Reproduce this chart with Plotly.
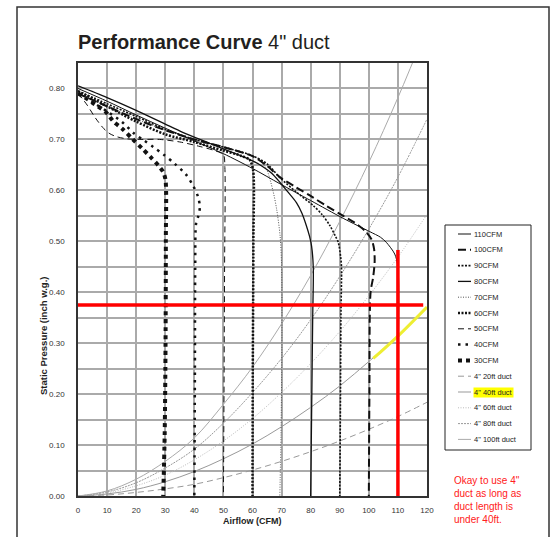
import plotly.graph_objects as go

# ---- duct system curves (static pressure vs airflow) ----
duct_cfm = [0, 10, 20, 30, 40, 50, 60, 70, 80, 90, 100, 110, 120]
duct_20ft = [0, 0.002, 0.007, 0.014, 0.023, 0.036, 0.051, 0.068, 0.087, 0.108, 0.131, 0.156, 0.184]
duct_40ft = [0, 0.004, 0.013, 0.028, 0.048, 0.073, 0.102, 0.136, 0.174, 0.216, 0.264, 0.314, 0.371]
duct_60ft = [0, 0.006, 0.020, 0.041, 0.071, 0.108, 0.152, 0.203, 0.260, 0.323, 0.393, 0.469, 0.553]
duct_80ft = [0, 0.008, 0.026, 0.055, 0.092, 0.143, 0.203, 0.270, 0.346, 0.431, 0.524, 0.626, 0.740]
duct_100ft = [0, 0.010, 0.033, 0.068, 0.114, 0.180, 0.253, 0.338, 0.433, 0.539, 0.655, 0.782, 0.920]

# ---- fan performance curves ----
cfm30_x = [0, 3, 5.5, 9.5, 12.4, 15.2, 18.7, 22.1, 25, 27.6, 29.3, 30.1, 30.2, 30.1, 29.8, 29.3]
cfm30_y = [0.79, 0.78, 0.77, 0.754, 0.734, 0.721, 0.701, 0.682, 0.665, 0.649, 0.636, 0.62, 0.5, 0.3, 0.12, 0]
cfm40_x = [0, 5, 10, 15, 19.2, 22.7, 25.9, 29.5, 33.3, 37, 39.6, 41.3, 41.9, 41.4, 40.6, 40.3, 40.2, 40]
cfm40_y = [0.79, 0.773, 0.755, 0.735, 0.712, 0.698, 0.685, 0.67, 0.652, 0.632, 0.609, 0.587, 0.567, 0.55, 0.535, 0.45, 0.25, 0]
cfm50_x = [0, 1.5, 3.2, 6, 8.9, 11, 13.5, 17, 22, 28, 35, 42, 47, 50, 50.5, 50.4, 50.2, 50]
cfm50_y = [0.79, 0.78, 0.767, 0.742, 0.721, 0.711, 0.705, 0.701, 0.70, 0.70, 0.695, 0.686, 0.678, 0.67, 0.645, 0.45, 0.2, 0]
cfm60_x = [0, 10, 20, 30, 40, 50, 56, 59, 60.2, 60.3, 60.1, 60]
cfm60_y = [0.795, 0.765, 0.735, 0.71, 0.695, 0.678, 0.668, 0.66, 0.64, 0.5, 0.25, 0]
cfm70_x = [0, 10, 20, 30, 40, 50, 58, 62, 64.8, 67, 68.3, 69.5, 70, 70.1, 69.8, 69.4]
cfm70_y = [0.79, 0.765, 0.74, 0.718, 0.70, 0.685, 0.672, 0.662, 0.642, 0.60, 0.563, 0.51, 0.452, 0.3, 0.12, 0]
cfm80_x = [0, 10, 20, 30, 36, 45, 55, 60, 63.7, 66.5, 69.4, 72, 75.1, 77, 78.5, 79.6, 80.3, 80.9, 80.7, 80.3, 80]
cfm80_y = [0.805, 0.782, 0.757, 0.73, 0.714, 0.693, 0.67, 0.658, 0.646, 0.634, 0.616, 0.598, 0.576, 0.555, 0.531, 0.51, 0.491, 0.449, 0.35, 0.15, 0]
cfm90_x = [0, 10, 20, 30, 40, 50, 60, 65, 69.4, 75, 80.9, 84, 86.6, 88.5, 89.5, 90.3, 90.6, 90.4, 90.2, 90]
cfm90_y = [0.795, 0.77, 0.745, 0.72, 0.70, 0.685, 0.668, 0.652, 0.625, 0.597, 0.570, 0.552, 0.531, 0.51, 0.498, 0.47, 0.449, 0.35, 0.15, 0]
cfm100_x = [0, 10, 20, 30, 40, 50, 60, 65, 69.4, 75, 79.7, 85, 91.2, 95, 98.6, 100.9, 101.8, 102, 101.5, 100.6, 100.2, 100]
cfm100_y = [0.79, 0.765, 0.74, 0.718, 0.70, 0.685, 0.667, 0.648, 0.626, 0.606, 0.59, 0.571, 0.55, 0.537, 0.521, 0.504, 0.485, 0.46, 0.43, 0.40, 0.2, 0]
cfm110_x = [0, 10, 20, 30, 40, 50, 60, 69.4, 80, 91.2, 100.3, 104, 106, 108.9, 110, 110.1, 110]
cfm110_y = [0.80, 0.775, 0.748, 0.722, 0.697, 0.672, 0.643, 0.613, 0.58, 0.545, 0.519, 0.508, 0.498, 0.475, 0.449, 0.25, 0]

# ---- markers on the chart ----
limit_x = [0, 118.7]
limit_y = [0.375, 0.375]
target_x = [110, 110]
target_y = [0, 0.483]
ok_x = [101.5, 110, 120]
ok_y = [0.27, 0.314, 0.371]

L, R, T, B = 78, 427, 63, 496


def px(x):
    return (x - L) / (R - L)


def py(y):
    return (B - y) / (B - T)


fig = go.Figure()

duct_styles = [
    ('4" 20ft duct', duct_20ft, dict(color='#999999', width=1, dash='6px,4px')),
    ('4" 40ft duct', duct_40ft, dict(color='#999999', width=1)),
    ('4" 60ft duct', duct_60ft, dict(color='#bbbbbb', width=1, dash='1px,1.5px')),
    ('4" 80ft duct', duct_80ft, dict(color='#999999', width=1, dash='2px,1px')),
    ('4" 100ft duct', duct_100ft, dict(color='#aaaaaa', width=1)),
]
for name, vals, ln in duct_styles:
    fig.add_trace(go.Scatter(x=duct_cfm, y=vals, mode='lines', name=name,
                             line=dict(shape='spline', **ln)))

fan_styles = [
    ('110CFM', cfm110_x, cfm110_y, dict(color='#111111', width=1)),
    ('100CFM', cfm100_x, cfm100_y, dict(color='#111111', width=2, dash='8px,4px')),
    ('90CFM', cfm90_x, cfm90_y, dict(color='#111111', width=1.6, dash='2px,1.5px')),
    ('80CFM', cfm80_x, cfm80_y, dict(color='#111111', width=1.3)),
    ('70CFM', cfm70_x, cfm70_y, dict(color='#555555', width=1, dash='1px,1.5px')),
    ('60CFM', cfm60_x, cfm60_y, dict(color='#111111', width=2.5, dash='2px,1.5px')),
    ('50CFM', cfm50_x, cfm50_y, dict(color='#111111', width=1, dash='6px,4px')),
    ('40CFM', cfm40_x, cfm40_y, dict(color='#111111', width=2.5, dash='2.5px,5px')),
    ('30CFM', cfm30_x, cfm30_y, dict(color='#111111', width=4, dash='4px,4px')),
]
for name, xs, ys, ln in fan_styles[::-1]:
    fig.add_trace(go.Scatter(x=xs, y=ys, mode='lines', name=name,
                             line=dict(shape='spline', smoothing=0.8, **ln)))

fig.add_trace(go.Scatter(x=ok_x, y=ok_y, mode='lines',
                         line=dict(color='#eeee33', width=3, shape='spline')))
fig.add_trace(go.Scatter(x=limit_x, y=limit_y, mode='lines',
                         line=dict(color='#ff0000', width=3.5)))
fig.add_trace(go.Scatter(x=target_x, y=target_y, mode='lines',
                         line=dict(color='#ff0000', width=3.5)))

shapes = []
annotations = []

# outer frame
shapes.append(dict(type='rect', xref='paper', yref='paper',
                   x0=px(17), x1=px(549), y0=py(560), y1=py(7),
                   line=dict(color='#333333', width=1.5)))

# hand-made legend box
shapes.append(dict(type='rect', xref='paper', yref='paper',
                   x0=px(445), x1=px(531), y0=py(450), y1=py(225),
                   line=dict(color='#222222', width=1), fillcolor='white'))
legend_rows = [(n, ln) for n, _, _, ln in fan_styles] + [(n, ln) for n, _, ln in duct_styles]
for i, (name, ln) in enumerate(legend_rows):
    yy = 234 + i * 15.8
    shapes.append(dict(type='line', xref='paper', yref='paper',
                       x0=px(458), x1=px(471), y0=py(yy), y1=py(yy), line=ln))
    annotations.append(dict(text=name, xref='paper', yref='paper', x=px(472.5), y=py(yy),
                            xanchor='left', yanchor='middle', showarrow=False,
                            font=dict(size=7.5, color='#222222'),
                            bgcolor='#ffff00' if name == '4" 40ft duct' else None,
                            borderpad=0))

annotations += [
    dict(text='<b>Performance Curve</b> 4" duct', xref='paper', yref='paper',
         x=px(76), y=py(42), xanchor='left', yanchor='middle', showarrow=False,
         font=dict(size=20, color='#231f20')),
    dict(text='<b>Airflow (CFM)</b>', xref='paper', yref='paper',
         x=0.5, y=py(521), xanchor='center', yanchor='middle', showarrow=False,
         font=dict(size=9, color='#222222')),
    dict(text='<b>Static Pressure (inch w.g.)</b>', xref='paper', yref='paper',
         x=px(43), y=py(336), xanchor='center', yanchor='middle', showarrow=False,
         textangle=-90, font=dict(size=9.5, color='#222222')),
    dict(text='Okay to use 4"<br>duct as long as<br>duct length is<br>under 40ft.',
         xref='paper', yref='paper', x=px(452), y=py(473), xanchor='left', yanchor='top',
         align='left', showarrow=False, font=dict(size=10, color='#ff2020')),
]

fig.update_layout(
    width=554, height=537,
    margin=dict(l=L, r=554 - R, t=T, b=537 - B),
    paper_bgcolor='white', plot_bgcolor='white',
    font=dict(family='Arial, Liberation Sans, sans-serif', color='#333333'),
    showlegend=False,
    shapes=shapes, annotations=annotations,
    xaxis=dict(range=[0, 120], dtick=10, tick0=0, showgrid=True,
               gridcolor='#aaaaaa', gridwidth=1.5, zeroline=False,
               showline=True, mirror=True, linecolor='#333333', linewidth=1.5,
               ticks='', ticklabelstandoff=6, tickfont=dict(size=8, color='#333333')),
    yaxis=dict(range=[0, 0.85], dtick=0.1, tick0=0, tickformat='.2f', showgrid=True,
               gridcolor='#aaaaaa', gridwidth=1.5, zeroline=False,
               minor=dict(dtick=0.05, showgrid=True, gridcolor='#aaaaaa', gridwidth=1.5),
               showline=True, mirror=True, linecolor='#333333', linewidth=1.5,
               ticks='', ticklabelstandoff=10, tickfont=dict(size=8, color='#333333')),
)

# the page's default body margin would push the chart 8px off
fig.write_html("out.html", config={'displayModeBar': False},
               post_script="document.body.style.margin='0px';")
